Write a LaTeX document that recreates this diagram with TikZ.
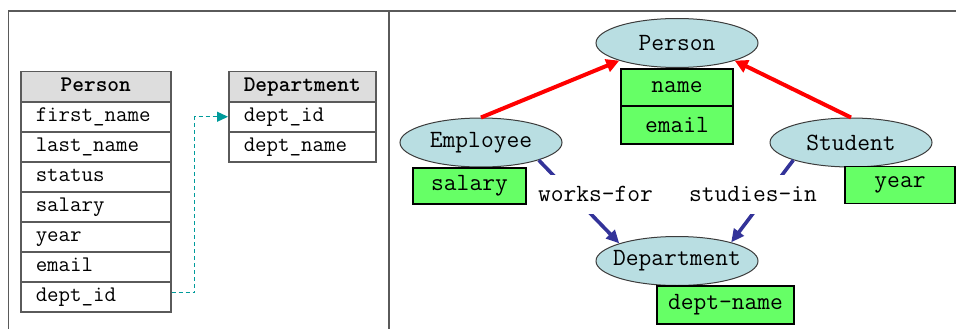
\documentclass[tikz,border=0pt]{standalone}
\usepackage{fontspec}
\usetikzlibrary{shapes.geometric,arrows.meta}
\definecolor{frameC}{RGB}{90,90,90}
\definecolor{hdrC}{RGB}{221,221,221}
\definecolor{tealC}{RGB}{0,155,155}
\definecolor{ellC}{RGB}{185,222,226}
\definecolor{ellB}{RGB}{60,60,60}
\definecolor{greenC}{RGB}{102,255,102}
\definecolor{redC}{RGB}{255,0,0}
\definecolor{blueC}{RGB}{51,51,153}
\newcommand{\tabfont}{\fontsize{22.3}{24}\selectfont\ttfamily}
\newcommand{\erfont}{\fontsize{24.8}{27}\selectfont\ttfamily}
\begin{document}
\begin{tikzpicture}[x=1pt,y=-1pt,
  tcell/.style={rectangle, draw=frameC, line width=1.5pt, fill=white, inner xsep=15pt, inner ysep=5.5pt,
    text height=14pt, text depth=5pt,
    minimum height=30pt, text width=#1, align=left, anchor=north west, font=\tabfont},
  thead/.style={tcell=#1, fill=hdrC, align=center, font=\tabfont\bfseries},
  ent/.style={ellipse, draw=ellB, line width=1pt, fill=ellC, minimum width=162pt, minimum height=49pt,
    inner xsep=-12pt, inner ysep=0pt, font=\erfont},
  attr/.style={rectangle, draw=black, line width=1.3pt, fill=greenC, inner sep=0pt, font=\erfont},
  lbl/.style={fill=white, inner xsep=2pt, inner ysep=0pt, minimum height=39pt, font=\erfont},
  redarr/.style={draw=redC, line width=4pt, -{Triangle[length=13pt,width=13pt]}},
  bluearr/.style={draw=blueC, line width=3.6pt, -{Triangle[length=13pt,width=12pt]}},
  fk/.style={draw=tealC, line width=1.3pt, dash pattern=on 4pt off 3pt, -{Triangle[length=11pt,width=10pt]}}
]
\useasboundingbox (0,0) rectangle (956,329);
% frame
\draw[frameC, line width=1.6pt] (956,11) -- (8.5,11) -- (8.5,329);
\draw[frameC, line width=1.6pt] (389,11) -- (389,329);

% Person table
\node[thead=120pt] (ph) at (20,71) {Person};
\node[tcell=120pt] (p1) at (20,101) {first\_name};
\node[tcell=120pt] (p2) at (20,131) {last\_name};
\node[tcell=120pt] (p3) at (20,161) {status};
\node[tcell=120pt] (p4) at (20,191) {salary};
\node[tcell=120pt] (p5) at (20,221) {year};
\node[tcell=120pt] (p6) at (20,251) {email};
\node[tcell=120pt] (p7) at (20,281) {dept\_id};

% Department table
\node[thead=117pt] (dh) at (228,71) {Department};
\node[tcell=117pt] (d1) at (228,101) {dept\_id};
\node[tcell=117pt] (d2) at (228,131) {dept\_name};

\draw[fk] ([yshift=4pt]p7.east) -- ++(23,0) |- (d1.west);

% ER diagram
\node[ent] (per) at (677,43) {Person};
\node[ent] (emp) at (481,142.5) {Employee};
\node[ent] (stu) at (851,142.5) {Student};
\node[ent] (dep) at (677,261) {Department};

\node[attr, minimum width=112pt, minimum height=37pt] (aname) at (677,87.5) {name};
\node[attr, minimum width=112pt, minimum height=38pt] (aemail) at (677,125) {email};
\node[attr, minimum width=113pt, minimum height=36pt] (asal) at (469.5,186) {salary};
\node[attr, minimum width=110pt, minimum height=37pt] (ayear) at (900,185.3) {year};
\node[attr, minimum width=137pt, minimum height=38pt] (adn) at (725.5,305) {dept-name};

\draw[redarr] (emp.north) -- (per.197);
\draw[redarr] (stu.north) -- (per.343);
\draw[bluearr] (emp.343) -- (dep.163);
\draw[bluearr] (stu.197) -- (dep.19);

\node[lbl] (wf) at (595.5,194) {works-for};
\node[lbl] (si) at (753,194) {studies-in};
\end{tikzpicture}
\end{document}
